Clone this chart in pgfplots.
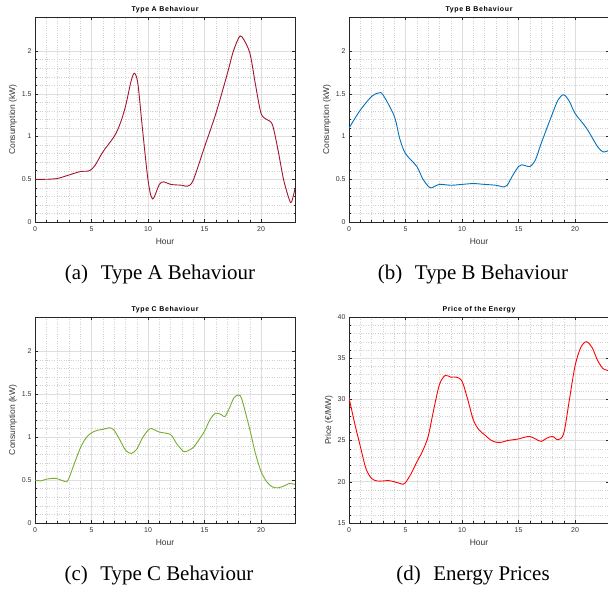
\documentclass[border=0pt]{standalone}
\usepackage{fontspec}
\setmainfont{Liberation Sans}
\newfontfamily\capfont{Liberation Serif}
\newfontfamily\titlefont[LetterSpace=9]{Liberation Sans}
\usepackage{pgfplots}
\usepackage{pgfplotstable}
\pgfplotsset{compat=1.18}

\definecolor{colA}{HTML}{A2142F}
\definecolor{colB}{HTML}{0072BD}
\definecolor{colC}{HTML}{77AC30}
\definecolor{colD}{HTML}{FF0000}

% hourly profiles
\pgfplotstableread{
h v
0 0.50
1 0.50
2 0.51
3 0.55
4 0.59
4.8 0.60
5.3 0.66
6 0.82
7 1.00
7.5 1.14
8 1.35
8.5 1.65
8.8 1.74
9.1 1.62
9.5 1.10
10 0.49
10.4 0.27
11 0.44
11.4 0.47
12 0.44
13 0.43
13.5 0.42
14 0.49
15 0.88
16 1.27
17 1.73
17.5 1.98
18 2.15
18.3 2.17
19 1.98
19.5 1.61
20 1.27
20.5 1.20
21 1.14
21.5 0.84
22 0.49
22.5 0.26
22.7 0.235
23 0.39
}\typeA

\pgfplotstableread{
h v
0 1.10
1 1.31
2 1.47
2.6 1.51
3 1.49
4 1.24
4.5 0.97
5 0.80
6 0.65
6.5 0.51
7 0.42
7.3 0.40
8 0.44
9 0.43
10 0.44
11 0.45
12 0.44
13 0.43
13.7 0.41
14 0.43
14.5 0.55
15 0.65
15.3 0.67
16 0.65
16.5 0.73
17 0.92
18 1.27
18.5 1.43
19 1.49
19.5 1.41
20 1.27
21 1.10
22 0.88
22.5 0.82
23 0.84
}\typeB

\pgfplotstableread{
h v
0 0.50
0.5 0.49
1 0.51
1.8 0.52
2.5 0.49
2.8 0.48
3 0.52
3.5 0.70
4 0.87
4.5 0.99
5 1.05
5.5 1.08
6 1.09
6.6 1.11
7 1.08
7.5 0.97
8 0.85
8.5 0.81
9 0.86
9.5 0.99
10 1.08
10.3 1.10
11 1.06
12 1.03
12.5 0.93
13 0.85
13.3 0.83
14 0.88
14.5 0.97
15 1.07
15.5 1.21
16 1.28
16.5 1.26
16.8 1.24
17.2 1.34
17.6 1.46
18 1.49
18.3 1.44
19 1.09
19.5 0.81
20 0.60
20.5 0.48
21 0.42
21.5 0.41
22 0.43
22.5 0.46
23 0.45
}\typeC

\pgfplotstableread{
h v
0 30.2
0.5 27.1
1 24.3
1.5 21.6
2 20.4
2.5 20.1
3 20.1
3.5 20.15
4 20.0
4.5 19.8
4.8 19.7
5 19.9
5.5 21.0
6 22.4
6.5 23.7
7 25.5
7.5 28.8
8 31.8
8.5 32.9
9 32.7
9.5 32.7
10 32.2
10.5 30.0
11 27.5
11.5 26.3
12 25.7
12.5 25.1
13 24.8
13.5 24.8
14 25.0
15 25.2
15.5 25.4
16 25.5
16.5 25.2
17 24.9
17.5 25.3
18 25.5
18.5 25.1
19 25.9
19.5 30.0
20 34.1
20.5 36.3
21 37.0
21.5 36.3
22 34.7
22.5 33.7
23 33.5
}\price

\pgfplotsset{
  panel/.style={
    scale only axis, width=260bp, anchor=south west,
    xmin=0, xmax=23, xtick={0,5,...,20}, minor x tick num=4,
    grid=both,
    major grid style={black!13, line width=0.7pt},
    minor grid style={black!18, dotted, line width=0.4pt},
    tick align=inside, major tick length=3bp, minor tick length=1.5bp,
    tick style={black!85, line width=0.5pt},
    axis line style={black!85, line width=0.7pt},
    /pgf/number format/assume math mode=true,
    ticklabel style={font=\fontsize{7}{8}\selectfont, text=black!80},
    xticklabel style={yshift=-1.5bp},
    xlabel={Hour},
    label style={font=\fontsize{8.5}{9}\selectfont, text=black!80},
    xlabel style={yshift=0bp},
    ylabel style={yshift=-2bp},
    title style={font=\titlefont\bfseries\fontsize{7}{8}\selectfont, yshift=-5.5bp},
    every axis plot/.append style={line width=0.9pt, smooth, tension=0.5, no markers},
  },
  cons/.style={
    ymin=0, ymax=2.4, ytick={0,0.5,...,2}, minor y tick num=4,
    ylabel={Consumption (kW)},
  },
}

\begin{document}
\begin{tikzpicture}[x=1bp,y=1bp]
\path[use as bounding box] (0,0) rectangle (608,593);

\begin{axis}[panel, cons, at={(35bp,371bp)}, height=205bp, title={Type A Behaviour}]
\addplot[colA] table[x=h,y=v] {\typeA};
\end{axis}

\begin{axis}[panel, cons, at={(349bp,371bp)}, height=205bp, title={Type B Behaviour}]
\addplot[colB] table[x=h,y=v] {\typeB};
\end{axis}

\begin{axis}[panel, cons, at={(35bp,70bp)}, height=206bp, title={Type C Behaviour}]
\addplot[colC] table[x=h,y=v] {\typeC};
\end{axis}

\begin{axis}[panel, at={(349bp,70bp)}, height=206bp, title={Price of the Energy},
  ymin=15, ymax=40, ytick={15,20,...,40}, minor y tick num=4,
  ylabel={Price (€/MW)}]
\addplot[colD] table[x=h,y=v] {\price};
\end{axis}

\node[font=\capfont\fontsize{21}{24}\selectfont] at (160,318) {(a)\hspace{0.35em} Type A Behaviour};
\node[font=\capfont\fontsize{21}{24}\selectfont] at (473,318) {(b)\hspace{0.35em} Type B Behaviour};
\node[font=\capfont\fontsize{21}{24}\selectfont] at (159,18) {(c)\hspace{0.35em} Type C Behaviour};
\node[font=\capfont\fontsize{21}{24}\selectfont] at (473,18) {(d)\hspace{0.35em} Energy Prices};
\end{tikzpicture}
\end{document}
